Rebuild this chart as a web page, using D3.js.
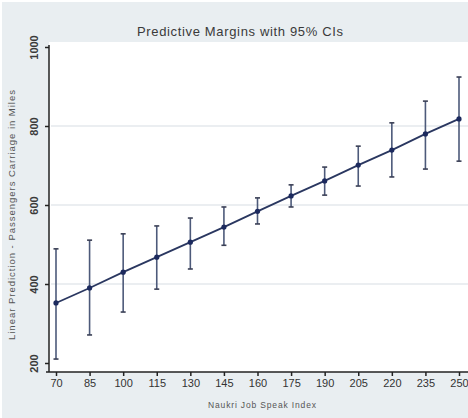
<!DOCTYPE html>
<html>
<head>
<meta charset="utf-8">
<script src="https://cdn.jsdelivr.net/npm/d3@7"></script>
<style>
  body { margin: 0; background: #fff; }
  svg { display: block; font-family: "Liberation Sans", Arial, sans-serif; }
</style>
</head>
<body>
<div id="content"></div>
<script>
// data
var jobIndex = [70, 85, 100, 115, 130, 145, 160, 175, 190, 205, 220, 235, 250];
var margins  = [352, 390, 430, 468, 506, 544, 584, 623, 661, 701, 739, 780, 818];
var lower    = [210, 271, 329, 387, 438, 498, 552, 595, 625, 648, 671, 691, 711];
var upper    = [489, 511, 527, 547, 567, 595, 618, 651, 696, 749, 808, 863, 924];
var yTicks   = [200, 400, 600, 800, 1000];
var gridTicks = [400, 600, 800];

var width = 468, height = 418;
var axisX = 49, axisY = 372;

var data = jobIndex.map(function(d, i) {
  return {idx: d, val: margins[i], lo: lower[i], hi: upper[i]};
});

var x = d3.scaleLinear().domain([70, 250]).range([56, 459]);
var y = d3.scaleLinear().domain([200, 1000]).range([363, 47]);

var svg = d3.select("#content").append("svg")
  .attr("width", width)
  .attr("height", height);

// graph region background
svg.append("rect")
  .attr("x", 2).attr("y", 2)
  .attr("width", width - 2).attr("height", height - 2)
  .attr("fill", "#e9eef1");

// plot region
svg.append("rect")
  .attr("x", axisX).attr("y", 42)
  .attr("width", width - axisX).attr("height", axisY - 42)
  .attr("fill", "#ffffff");

// title
svg.append("text")
  .attr("x", 240).attr("y", 36)
  .attr("text-anchor", "middle")
  .attr("font-size", 13)
  .attr("textLength", 206)
  .attr("fill", "#3a3a3a")
  .text("Predictive Margins with 95% CIs");

// grid lines
svg.selectAll(".grid").data(gridTicks).enter().append("line")
  .attr("class", "grid")
  .attr("x1", axisX + 2).attr("x2", width)
  .attr("y1", function(d) { return y(d); })
  .attr("y2", function(d) { return y(d); })
  .attr("stroke", "#e4e8ec")
  .attr("stroke-width", 1.5);

// y axis
var gy = svg.append("g")
  .attr("transform", "translate(" + axisX + ",0)")
  .call(d3.axisLeft(y).tickValues(yTicks).tickFormat(d3.format("d"))
    .tickSize(4).tickSizeOuter(0));
gy.select(".domain").remove();
gy.selectAll(".tick line").attr("stroke", "#222").attr("stroke-width", 1.5);
gy.selectAll(".tick text")
  .attr("x", 0).attr("dy", 0)
  .attr("text-anchor", "middle")
  .attr("transform", "translate(-11,0) rotate(-90)")
  .attr("font-size", 11)
  .attr("font-weight", "bold")
  .attr("fill", "#3a3a3a");
svg.append("line")
  .attr("x1", axisX).attr("x2", axisX)
  .attr("y1", 45).attr("y2", axisY)
  .attr("stroke", "#222").attr("stroke-width", 1.5);

// x axis
var gx = svg.append("g")
  .attr("transform", "translate(0," + axisY + ")")
  .call(d3.axisBottom(x).tickValues(jobIndex).tickSize(4).tickSizeOuter(0));
gx.select(".domain").remove();
gx.selectAll(".tick line").attr("stroke", "#222").attr("stroke-width", 1.5);
gx.selectAll(".tick text")
  .attr("font-size", 11)
  .attr("fill", "#333");
svg.append("line")
  .attr("x1", axisX - 3).attr("x2", width)
  .attr("y1", axisY).attr("y2", axisY)
  .attr("stroke", "#222").attr("stroke-width", 1.5);

// axis titles
svg.append("text")
  .attr("transform", "translate(15,215) rotate(-90)")
  .attr("text-anchor", "middle")
  .attr("font-size", 9.5)
  .attr("textLength", 250)
  .attr("fill", "#555")
  .text("Linear Prediction - Passengers Carriage in Miles");

svg.append("text")
  .attr("x", 262).attr("y", 408)
  .attr("text-anchor", "middle")
  .attr("font-size", 8.5)
  .attr("textLength", 108)
  .attr("fill", "#555")
  .text("Naukri Job Speak Index");

// error bars
var bars = svg.selectAll(".ci").data(data).enter().append("g").attr("class", "ci");
bars.append("line")
  .attr("x1", function(d) { return x(d.idx); })
  .attr("x2", function(d) { return x(d.idx); })
  .attr("y1", function(d) { return y(d.lo); })
  .attr("y2", function(d) { return y(d.hi); })
  .attr("stroke", "#4d5a7a").attr("stroke-width", 1.6);
bars.append("line")
  .attr("x1", function(d) { return x(d.idx) - 2.5; })
  .attr("x2", function(d) { return x(d.idx) + 2.5; })
  .attr("y1", function(d) { return y(d.lo); })
  .attr("y2", function(d) { return y(d.lo); })
  .attr("stroke", "#3a3f55").attr("stroke-width", 1.6);
bars.append("line")
  .attr("x1", function(d) { return x(d.idx) - 2.5; })
  .attr("x2", function(d) { return x(d.idx) + 2.5; })
  .attr("y1", function(d) { return y(d.hi); })
  .attr("y2", function(d) { return y(d.hi); })
  .attr("stroke", "#3a3f55").attr("stroke-width", 1.6);

// margin line
var valueline = d3.line()
  .x(function(d) { return x(d.idx); })
  .y(function(d) { return y(d.val); });

svg.append("path")
  .datum(data)
  .attr("fill", "none")
  .attr("stroke", "#2a3760")
  .attr("stroke-width", 1.8)
  .attr("d", valueline);

svg.selectAll(".pt").data(data).enter().append("circle")
  .attr("class", "pt")
  .attr("cx", function(d) { return x(d.idx); })
  .attr("cy", function(d) { return y(d.val); })
  .attr("r", 2.6)
  .attr("fill", "#1c2a5e");
</script>
</body>
</html>
